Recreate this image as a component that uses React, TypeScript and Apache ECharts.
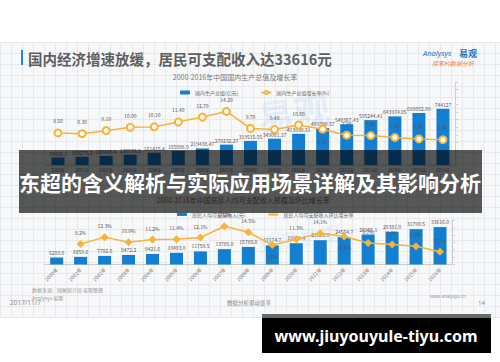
import React, { useEffect, useRef } from "react";
import * as echarts from "echarts";

const years = ["2000年","2001年","2002年","2003年","2004年","2005年","2006年","2007年","2008年","2009年","2010年","2011年","2012年","2013年","2014年","2015年","2016年"];
const gdp = [99066.1,109276.2,120480.4,136576.3,161415.4,185998.9,219438.47,270232.27,319515.55,349081.37,413030.31,489300.57,540367.43,595244.41,643974.05,689052.09,744127];
const gdpRate = [8.5,8.3,9.1,10.0,10.1,11.4,12.7,14.2,9.7,9.4,10.6,9.5,7.9,7.8,7.3,6.9,6.7];
const income = [6280.0,6859.6,7702.8,8472.2,9421.6,10493.0,11759.5,13785.8,15780.8,17174.7,19109.4,21809.8,24564.7,26955.1,29381.0,31790.5,33616.0];
const incomeRate: (number | null)[] = [null,9.2,12.3,10.0,11.2,11.4,12.1,17.2,14.5,8.8,11.3,14.1,12.6,9.7,9.0,8.2,5.7];

const gdpRateBelow = [11];
const incomeRateBelow = [9, 12];

const BLUE = "#137fd1";
const ORANGE = "#f9b233";
const FONT = "'Noto Sans CJK SC', 'Noto Sans', sans-serif";

export default function App() {
  const ref = useRef<HTMLDivElement>(null);
  useEffect(() => {
    if (!ref.current) return;
    const chart = echarts.init(ref.current, undefined, { renderer: "svg" });
    const lbl = { fontSize: 5, color: "#555", fontFamily: FONT };
    chart.setOption({
      animation: false,
      textStyle: { fontFamily: FONT },
      legend: [
        { left: 175, top: 85, itemWidth: 10, itemHeight: 4, itemGap: 22, textStyle: { fontSize: 5, color: "#666" }, data: ["国内生产总值(亿元)", "国内生产总值增长率(%)"] },
        { left: 172, top: 207, itemWidth: 10, itemHeight: 3, itemGap: 22, textStyle: { fontSize: 5, color: "#666" }, data: ["居民人均可支配收入(元)", "居民人均可支配收入环比增长率"] },
      ],
      grid: [
        { left: 46, width: 409, top: 82, height: 83 },
        { left: 44.7, width: 407.3, top: 220, height: 44.5 },
      ],
      xAxis: [
        { type: "category", gridIndex: 0, data: years, axisLine: { lineStyle: { color: "#ccc" } }, axisTick: { show: false }, axisLabel: { fontSize: 4.5, color: "#777", margin: 3, interval: 0 } },
        { type: "category", gridIndex: 1, data: years, axisLine: { lineStyle: { color: "#ccc" } }, axisTick: { show: false }, axisLabel: { fontSize: 5, color: "#777", rotate: 45, margin: 4, interval: 0 } },
      ],
      yAxis: [
        { type: "value", gridIndex: 0, min: 0, max: 1100000, show: false },
        { type: "value", gridIndex: 0, position: "right", min: 0, max: 22, interval: 2, axisLine: { show: true, lineStyle: { color: "#d0d0d0" } }, axisTick: { show: true, length: 3, lineStyle: { color: "#d0d0d0" } }, axisLabel: { show: false }, splitLine: { show: false } },
        { type: "value", gridIndex: 1, min: 0, max: 40000, show: false },
        { type: "value", gridIndex: 1, position: "right", min: 0, max: 20, interval: 20 / 6, axisLine: { show: true, lineStyle: { color: "#d0d0d0" } }, axisTick: { show: true, length: 3, lineStyle: { color: "#d0d0d0" } }, axisLabel: { show: false }, splitLine: { show: false } },
      ],
      series: [
        { name: "国内生产总值(亿元)", type: "bar", xAxisIndex: 0, yAxisIndex: 0, barWidth: 13, itemStyle: { color: BLUE }, data: gdp, label: { show: true, position: "top", distance: 2, ...lbl } },
        {
          name: "国内生产总值增长率(%)", type: "line", xAxisIndex: 0, yAxisIndex: 1, symbol: "circle", symbolSize: 7,
          itemStyle: { color: "#fff", borderColor: ORANGE, borderWidth: 2 }, lineStyle: { color: ORANGE, width: 1.5 },
          data: gdpRate.map((v, i) => (gdpRateBelow.includes(i) ? { value: v, label: { position: "bottom" } } : v)),
          label: { show: true, position: "top", distance: 5, formatter: (p: any) => Number(p.value).toFixed(2), ...lbl },
        },
        { name: "居民人均可支配收入(元)", type: "bar", xAxisIndex: 1, yAxisIndex: 2, barWidth: 13, itemStyle: { color: BLUE }, data: income, label: { show: true, position: "top", distance: 3, formatter: (p: any) => Number(p.value).toFixed(1), ...lbl } },
        {
          name: "居民人均可支配收入环比增长率", type: "line", xAxisIndex: 1, yAxisIndex: 3, symbol: "diamond", symbolSize: 8,
          itemStyle: { color: ORANGE }, lineStyle: { color: ORANGE, width: 1.5 },
          data: incomeRate.map((v, i) => (v == null ? "-" : incomeRateBelow.includes(i) ? { value: v, label: { position: "bottom" } } : v)),
          label: { show: true, position: "top", distance: 5, formatter: (p: any) => Number(p.value).toFixed(1) + "%", ...lbl },
        },
      ],
      graphic: [
        { type: "text", left: 255, top: 88, z: 0, silent: true, rotation: 0.15, style: { text: "易观", font: "bold 36px 'Noto Sans CJK SC'", fill: "rgba(110,175,230,0.13)" } },
        { type: "text", left: 255, top: 222, z: 0, silent: true, rotation: 0.15, style: { text: "易观 数据", font: "bold 20px 'Noto Sans CJK SC'", fill: "rgba(110,175,230,0.10)" } },
        { type: "rect", shape: { x: 21, y: 50, width: 2, height: 15 }, style: { fill: "#1e88e5" } },
        { type: "text", x: 28, y: 58, style: { text: "国内经济增速放缓，居民可支配收入达33616元", font: "bold 14.5px 'Noto Sans CJK SC'", fill: "#5f5f5f", verticalAlign: "middle" } },
        { type: "text", x: 423, y: 53, style: { text: "Analysys", font: "italic 7.5px 'Noto Sans'", fill: "#1f6fc4", verticalAlign: "middle" } },
        { type: "text", x: 459, y: 53, style: { text: "易观", font: "bold 9px 'Noto Sans CJK SC'", fill: "#1f6fc4", verticalAlign: "middle" } },
        { type: "text", x: 432, y: 63, style: { text: "探索的数据分析", font: "italic 6px 'Noto Sans CJK SC'", fill: "#f0843c", verticalAlign: "middle" } },
        { type: "text", x: 235, y: 77, style: { text: "2000-2016年中国国内生产总值及增长率", font: "7px 'Noto Sans CJK SC'", fill: "#777", align: "center", verticalAlign: "middle" } },
        { type: "text", x: 243, y: 200, style: { text: "2000-2016年中国居民人均可支配收入规模及环比增长率", font: "7px 'Noto Sans CJK SC'", fill: "#777", align: "center", verticalAlign: "middle" } },
        { type: "text", x: 32, y: 289, style: { text: "数据来源：国家统计局 易观整理", font: "5px 'Noto Sans CJK SC'", fill: "#999", verticalAlign: "middle" } },
        { type: "text", x: 32, y: 297, style: { text: "Analysys 易观", font: "5px 'Noto Sans CJK SC'", fill: "#999", verticalAlign: "middle" } },
        { type: "text", x: 10, y: 302, style: { text: "2017/11/7", font: "6.5px 'Noto Sans'", fill: "#888", verticalAlign: "middle" } },
        { type: "text", x: 249, y: 303, style: { text: "数据分析驱动变革", font: "5.5px 'Noto Sans CJK SC'", fill: "#888", align: "center", verticalAlign: "middle" } },
        { type: "text", x: 430, y: 296, style: { text: "www.analysys.cn", font: "4.5px 'Noto Sans'", fill: "#999", verticalAlign: "middle" } },
        { type: "text", x: 478, y: 303, style: { text: "14", font: "6px 'Noto Sans'", fill: "#888", verticalAlign: "middle" } },
        { type: "rect", z: 100, shape: { x: 19, y: 150, width: 463, height: 63 }, style: { fill: "rgba(0,0,0,0.65)" } },
        { type: "text", z: 101, x: 250, y: 182, style: { text: "东超的含义解析与实际应用场景详解及其影响分析", font: "bold 21px 'Noto Sans CJK SC'", fill: "#fff", align: "center", verticalAlign: "middle" } },
        { type: "rect", z: 100, shape: { x: 262, y: 314, width: 229, height: 4 }, style: { fill: "#6b6b6b" } },
        { type: "rect", z: 100, shape: { x: 262, y: 318, width: 229, height: 35 }, style: { fill: "#000" } },
        { type: "text", z: 101, x: 376, y: 336, style: { text: "www.jiuyouyule-tiyu.com", font: "bold 16px 'Noto Sans'", fill: "#fff", align: "center", verticalAlign: "middle" } },
      ],
    });
    return () => chart.dispose();
  }, []);

  return (
    <div style={{ position: "absolute", left: 0, top: 0, width: 500, height: 362, background: "#fff", overflow: "hidden" }}>
      <div
        style={{
          position: "absolute", left: 0, top: 42, width: 500, height: 276,
          backgroundColor: "#f7f8fa",
          backgroundImage: "linear-gradient(#e7e9ec 1px, transparent 1px), linear-gradient(90deg, #e7e9ec 1px, transparent 1px)",
          backgroundSize: "11px 11px",
        }}
      />
      <div ref={ref} style={{ position: "absolute", left: 0, top: 0, width: 500, height: 362 }} />
    </div>
  );
}
